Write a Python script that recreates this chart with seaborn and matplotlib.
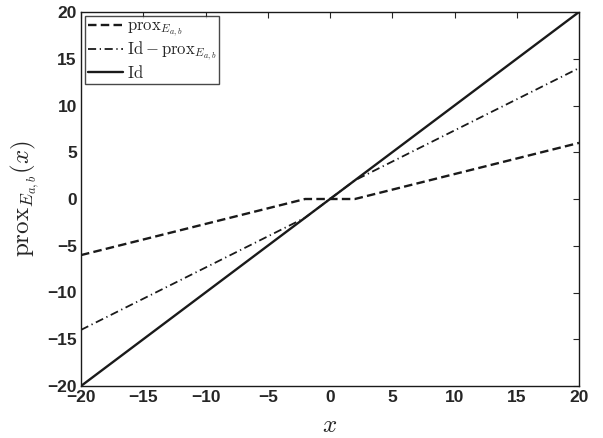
import matplotlib
matplotlib.use("Agg")
import matplotlib.pyplot as plt
import seaborn as sns

# data
x_prox = [-20, -2, 2, 20]
prox_vals = [-6, 0, 0, 6]
x_resid = [-20, -2, 2, 20]
resid_vals = [-14, -2, 2, 14]
x_id = [-20, 20]
id_vals = [-20, 20]
ticks = [-20, -15, -10, -5, 0, 5, 10, 15, 20]

sns.set_style("white")
plt.rcParams['font.family'] = ['Liberation Sans', 'DejaVu Sans']
plt.rcParams['mathtext.fontset'] = 'cm'

fig, ax = plt.subplots(figsize=(6.03, 4.38), dpi=100)
fig.subplots_adjust(left=81 / 603, right=579 / 603, bottom=1 - 386 / 438, top=1 - 12 / 438)

ink = '#1a1a1a'
sns.lineplot(x=x_prox, y=prox_vals, ax=ax, color=ink, lw=1.7,
             linestyle=(0, (3.6, 1.8)), label=r'$\mathrm{prox}_{E_{a,b}}$')
sns.lineplot(x=x_resid, y=resid_vals, ax=ax, color=ink, lw=1.3,
             linestyle=(0, (4.5, 2.0, 0.7, 2.0)), label=r'$\mathrm{Id} - \mathrm{prox}_{E_{a,b}}$')
sns.lineplot(x=x_id, y=id_vals, ax=ax, color=ink, lw=1.7,
             linestyle='-', label=r'$\mathrm{Id}$')

ax.set_xlim(-20, 20)
ax.set_ylim(-20, 20)
ax.set_xticks(ticks)
ax.set_yticks(ticks)
ax.tick_params(direction='in', top=True, right=True, length=4, width=0.8,
               labelsize=12.5, pad=3)
for lab in ax.get_xticklabels() + ax.get_yticklabels():
    lab.set_fontweight('bold')
for sp in ax.spines.values():
    sp.set_color(ink)
    sp.set_linewidth(1.0)

ax.set_xlabel(r'$x$', fontsize=18, labelpad=6)
ax.set_ylabel(r'$\mathrm{prox}_{E_{a,b}}(x)$', fontsize=18, labelpad=4)

leg = ax.legend(loc='upper left', fontsize=12, frameon=True, fancybox=False,
                handlelength=2.1, handletextpad=0.25, borderpad=0.15,
                labelspacing=0.05, borderaxespad=0.25)
leg.get_frame().set_edgecolor(ink)
leg.get_frame().set_linewidth(1.0)

fig.savefig('out.png', dpi=100)
